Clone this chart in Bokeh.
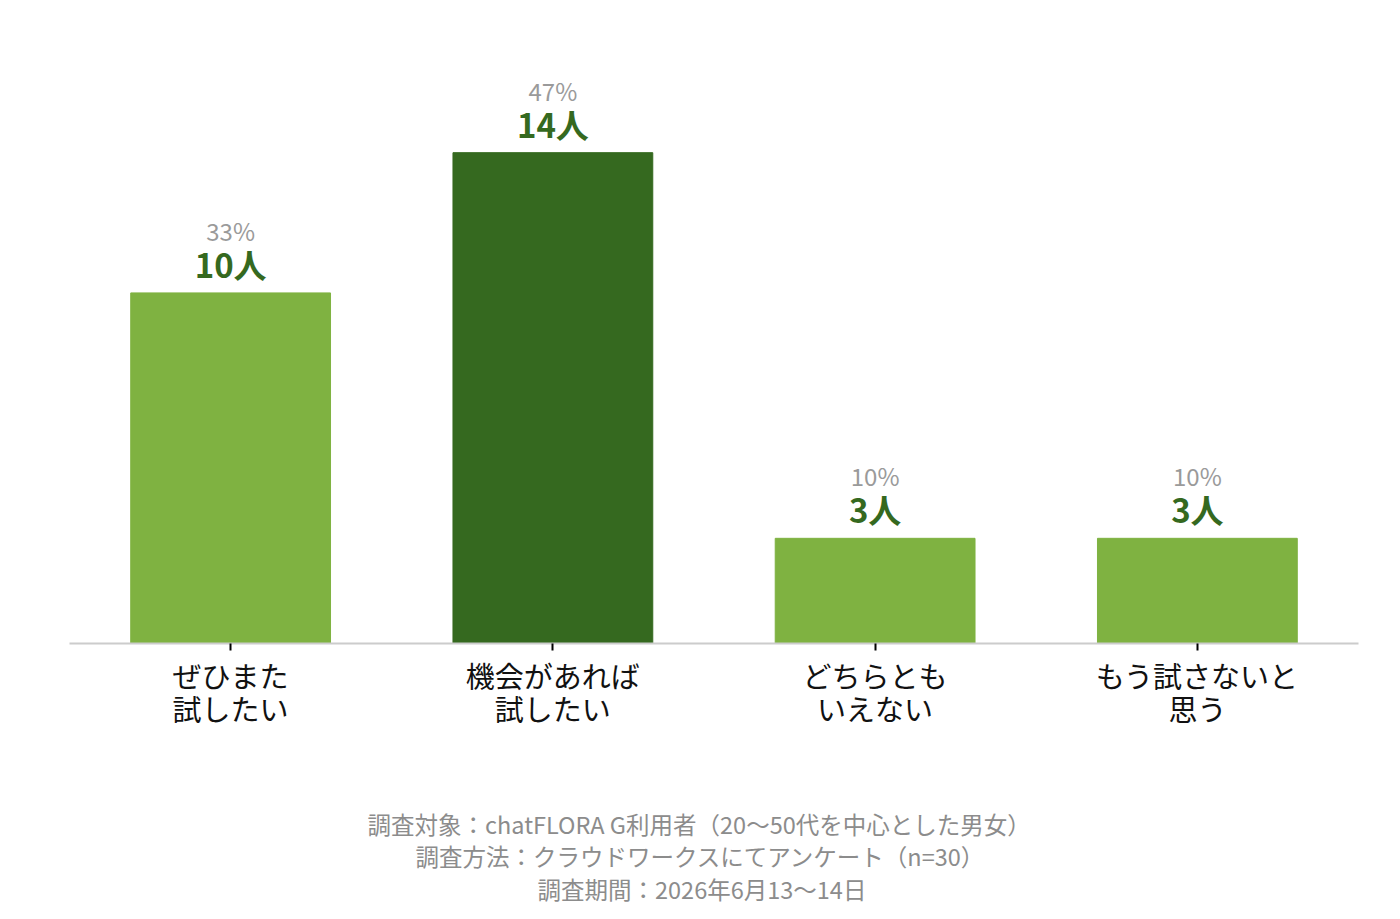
from bokeh.plotting import figure
from bokeh.models import ColumnDataSource, Title, Range1d
from bokeh.core.properties import value
from bokeh.embed import file_html
from bokeh.resources import INLINE

# Survey answers (two-line category labels)
categories = ["ぜひまた\n試したい", "機会があれば\n試したい", "どちらとも\nいえない", "もう試さないと\n思う"]
counts = [10, 14, 3, 3]
percents = [33, 47, 10, 10]
bar_colors = ["#7fb241", "#35691f", "#7fb241", "#7fb241"]

notes = [
    "調査対象：chatFLORA G利用者（20〜50代を中心とした男女）",
    "調査方法：クラウドワークスにてアンケート（n=30）",
    "調査期間：2026年6月13〜14日",
]
# left offsets (px from the plot frame) that centre each note on the page
note_offsets = [298, 346, 468]
note_standoffs = [-4, -4, -1]

FONT = "Noto Sans CJK JP"

src = ColumnDataSource(dict(
    cat=categories,
    count=counts,
    count_label=[f"{c}人" for c in counts],
    pct_label=[f"{p}%" for p in percents],
    color=bar_colors,
))

p = figure(
    x_range=categories,
    y_range=Range1d(0, 17.2),
    frame_width=1289, frame_height=603,
    output_backend="svg", toolbar_location=None,
    min_border_left=69, min_border_right=42, min_border_top=40, min_border_bottom=0,
    background_fill_color="white", border_fill_color="white",
)
p.outline_line_color = None
p.grid.visible = False
p.yaxis.visible = False

p.vbar(x="cat", top="count", width=0.62, color="color", source=src)

p.text(x="cat", y="count", text="count_label", source=src,
       text_font=value(FONT), text_font_size="33px", text_font_style="bold",
       text_color="#35691f", text_align="center", text_baseline="bottom",
       y_offset=-5)
p.text(x="cat", y="count", text="pct_label", source=src,
       text_font=value(FONT), text_font_size="24px",
       text_color="#9a9a9a", text_align="center", text_baseline="bottom",
       y_offset=-45)

ax = p.xaxis[0]
ax.axis_line_color = "#cccccc"
ax.axis_line_width = 2
ax.major_tick_line_color = "#000000"
ax.major_tick_line_width = 2
ax.major_tick_in = 0
ax.major_tick_out = 7
ax.minor_tick_line_color = None
ax.major_label_standoff = 3
ax.major_label_text_font = FONT
ax.major_label_text_font_size = "29px"
ax.major_label_text_color = "#111111"
ax.major_label_text_line_height = 0.79

# blank band between the axis labels and the notes
p.add_layout(Title(text=" ", text_font_size="10px", standoff=62), "below")
for line, off, so in zip(notes, note_offsets, note_standoffs):
    p.add_layout(Title(text=line, align="left", offset=off, text_font=FONT,
                       text_font_size="23.5px", text_font_style="normal",
                       text_color="#8c8c8c", standoff=so), "below")
# bottom margin under the notes
p.add_layout(Title(text=" ", text_font_size="10px", standoff=4), "below")

open("out.html", "w").write(file_html(p, INLINE))
